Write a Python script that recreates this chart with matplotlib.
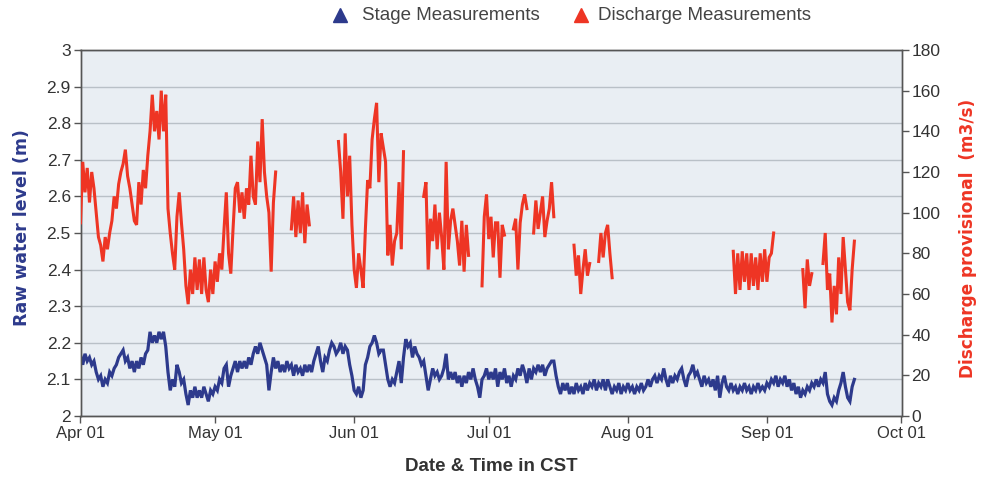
import datetime as dt
import numpy as np
import matplotlib
matplotlib.use("Agg")
import matplotlib.pyplot as plt
import matplotlib.dates as mdates
from matplotlib.lines import Line2D

plt.rcParams['font.family'] = ['Liberation Sans', 'DejaVu Sans']

# ---------------- data ----------------
start_date = dt.datetime(2010, 4, 1)
step_days = 0.5  # readings every 12 hours

# Stage (m), every 12 h from Apr 01
stage = [
 2.167, 2.14, 2.17, 2.15, 2.16, 2.14, 2.15, 2.12, 2.10, 2.11, 2.08, 2.10, 2.09, 2.12, 2.11, 2.13,
 2.14, 2.16, 2.17, 2.18, 2.15, 2.16, 2.13, 2.15, 2.12, 2.15, 2.13, 2.16, 2.14, 2.17, 2.18, 2.23,
 2.20, 2.22, 2.20, 2.23, 2.21, 2.23, 2.19, 2.12, 2.07, 2.10, 2.08, 2.14, 2.12, 2.09, 2.10, 2.06,
 2.03, 2.07, 2.05, 2.08, 2.05, 2.07, 2.05, 2.08, 2.06, 2.04, 2.07, 2.06, 2.08, 2.07, 2.10, 2.09,
 2.13, 2.14, 2.08, 2.11, 2.13, 2.15, 2.12, 2.15, 2.13, 2.15, 2.13, 2.16, 2.14, 2.17, 2.19, 2.17,
 2.20, 2.18, 2.16, 2.14, 2.07, 2.12, 2.16, 2.13, 2.15, 2.12, 2.14, 2.12, 2.15, 2.13, 2.14, 2.11,
 2.14, 2.12, 2.13, 2.11, 2.14, 2.12, 2.14, 2.12, 2.15, 2.17, 2.19, 2.15, 2.12, 2.16, 2.15, 2.18,
 2.20, 2.19, 2.17, 2.18, 2.20, 2.17, 2.19, 2.18, 2.14, 2.11, 2.07, 2.06, 2.08, 2.05, 2.07, 2.14,
 2.16, 2.19, 2.20, 2.22, 2.20, 2.17, 2.18, 2.18, 2.14, 2.10, 2.08, 2.10, 2.09, 2.12, 2.15, 2.09,
 2.16, 2.21, 2.19, 2.20, 2.16, 2.19, 2.17, 2.16, 2.14, 2.15, 2.11, 2.07, 2.10, 2.13, 2.11, 2.12,
 2.10, 2.11, 2.13, 2.17, 2.10, 2.12, 2.10, 2.12, 2.09, 2.11, 2.08, 2.11, 2.09, 2.12, 2.10, 2.13,
 2.10, 2.08, 2.05, 2.10, 2.11, 2.13, 2.10, 2.12,
 2.10, 2.13, 2.08, 2.12, 2.10, 2.13, 2.09, 2.11, 2.08, 2.11, 2.10, 2.13, 2.11, 2.14, 2.12, 2.09,
 2.13, 2.10, 2.13, 2.12, 2.14, 2.12, 2.14, 2.11, 2.13, 2.14, 2.15, 2.15, 2.11, 2.08, 2.06, 2.09,
 2.07, 2.09, 2.06, 2.08, 2.06, 2.09, 2.07, 2.08, 2.06, 2.09, 2.07, 2.09, 2.08, 2.10, 2.07, 2.09,
 2.08, 2.10, 2.07, 2.10, 2.08, 2.06, 2.08, 2.07, 2.09, 2.06, 2.08, 2.07, 2.09, 2.07, 2.08, 2.06,
 2.08, 2.07, 2.09, 2.07, 2.08, 2.10, 2.08, 2.10, 2.11, 2.09, 2.11, 2.10, 2.13, 2.10, 2.08, 2.11,
 2.09, 2.11, 2.10, 2.12, 2.13, 2.10, 2.08, 2.11, 2.12, 2.14, 2.11, 2.12, 2.10, 2.08, 2.11, 2.09,
 2.10, 2.08, 2.10, 2.07, 2.11, 2.05, 2.09, 2.11, 2.08, 2.07, 2.09, 2.07, 2.08, 2.06, 2.08, 2.07,
 2.09, 2.07, 2.08, 2.06, 2.08, 2.07, 2.09, 2.07, 2.08, 2.07, 2.09, 2.08, 2.10, 2.09, 2.11, 2.08,
 2.10, 2.09, 2.11, 2.08, 2.10, 2.07, 2.09, 2.06, 2.08, 2.05, 2.07, 2.06, 2.08, 2.07, 2.09, 2.08,
 2.10, 2.08, 2.10, 2.09, 2.12, 2.06, 2.04, 2.03, 2.05, 2.04, 2.07, 2.09, 2.12, 2.08, 2.05, 2.04,
 2.08, 2.10,
]

# Discharge (m3/s): separate runs, each every 12 h, start given in days after Apr 01
discharge_starts = [0.0, 47.0, 57.5, 76.5, 89.5, 96.5, 101.0, 110.0, 115.5, 145.5, 161.0, 165.5]
q_run1 = [95, 125, 110, 122, 105, 120, 112, 100, 88, 84, 76, 88, 82, 90, 96, 108, 102, 114, 120, 124,
          131, 118, 112, 104, 96, 94, 115, 104, 121, 112, 128, 140, 158, 140, 150, 136, 160, 140, 158, 102,
          90, 80, 72, 98, 110, 95, 82, 64, 55, 72, 60, 78, 62, 77, 60, 78, 62, 56, 72, 60,
          76, 66, 80, 72, 92, 110, 80, 70, 92, 112, 115, 100, 110, 97, 112, 104, 128, 108, 104, 135,
          115, 146, 120, 108, 100, 71, 105, 120]
q_run2 = [92, 108, 88, 106, 90, 110, 85, 104, 94]
q_run3 = [135, 120, 97, 139, 108, 128, 94, 72, 63, 80, 72, 63, 92, 116, 112, 136, 146, 154, 115, 139,
          132, 125, 79, 94, 74, 86, 90, 115, 82, 130]
q_run4 = [108, 115, 72, 97, 86, 104, 82, 100, 88, 72, 125, 82, 96, 102, 94, 86, 74, 96, 71, 94, 79]
q_run5 = [64, 98, 109, 87, 98, 78, 95, 95, 68, 94, 89]
q_run6 = [92, 97, 72, 95, 104, 109, 102]
q_run7 = [90, 106, 92, 100, 108, 88, 96, 102, 115, 98]
q_run8 = [84, 69, 79, 60, 72, 82, 69, 75]
q_run9 = [76, 90, 78, 90, 94, 80, 68]
q_run10 = [81, 60, 80, 62, 81, 66, 80, 62, 80, 64, 78, 62, 80, 66, 82, 66, 78, 80, 90]
q_run11 = [72, 53, 77, 64, 70]
q_run12 = [75, 90, 62, 70, 46, 64, 50, 78, 60, 88, 72, 56, 52, 72, 86]
discharge_runs = [q_run1, q_run2, q_run3, q_run4, q_run5, q_run6, q_run7, q_run8, q_run9,
                  q_run10, q_run11, q_run12]

stage_ticks = [2.0, 2.1, 2.2, 2.3, 2.4, 2.5, 2.6, 2.7, 2.8, 2.9, 3.0]
stage_labels = ["2", "2.1", "2.2", "2.3", "2.4", "2.5", "2.6", "2.7", "2.8", "2.9", "3"]
discharge_ticks = [0, 20, 40, 60, 80, 100, 120, 140, 160, 180]

# ---------------- figure ----------------
W, H = 989, 486
fig = plt.figure(figsize=(W / 100, H / 100), dpi=100)
fig.patch.set_facecolor("white")

left, right, top, bottom = 80.5, 901.5, 50, 416
ax = fig.add_axes([left / W, 1 - bottom / H, (right - left) / W, (bottom - top) / H])
ax.set_facecolor("#e9eef3")
ax2 = ax.twinx()

navy = "#2d3a8c"
red = "#ee3524"
txt = "#333333"

def to_num(days):
    return mdates.date2num(start_date) + np.asarray(days)

x_stage = to_num(np.arange(len(stage)) * step_days)
ax.plot(x_stage, stage, color=navy, lw=2.3, solid_joinstyle="miter", zorder=3)

for s, run in zip(discharge_starts, discharge_runs):
    xr = to_num(s + np.arange(len(run)) * step_days)
    ax2.plot(xr, run, color=red, lw=2.2, solid_joinstyle="miter", zorder=3)

ax.set_ylim(2.0, 3.0)
ax2.set_ylim(0, 180)
ax.set_yticks(stage_ticks)
ax.set_yticklabels(stage_labels)
ax2.set_yticks(discharge_ticks)

ax.set_xlim(mdates.date2num(dt.datetime(2010, 4, 1)), mdates.date2num(dt.datetime(2010, 10, 1)))
ax.xaxis.set_major_locator(mdates.MonthLocator())
ax.xaxis.set_major_formatter(mdates.DateFormatter("%b %d"))

ax.grid(axis="y", color="#b9c0c7", lw=1.0)
ax.set_axisbelow(True)

for a in (ax, ax2):
    for sp in a.spines.values():
        sp.set_color("#555555")
        sp.set_linewidth(1.0)
    a.tick_params(colors="#555555", labelcolor=txt, labelsize=12.5, length=5, width=1.0)

ax.tick_params(axis="x", pad=2, labelsize=12)
ax.tick_params(axis="y", pad=2)
ax2.tick_params(axis="y", pad=2)

fig.text((left + right) / 2 / W, 1 - 466 / H, "Date & Time in CST", ha="center", va="center",
         fontsize=13.5, fontweight="bold", color=txt)
fig.text(22 / W, 1 - 228 / H, "Raw water level (m)", rotation=90, ha="center", va="center",
         fontsize=12.5, fontweight="bold", color=navy, family="DejaVu Sans")
fig.text(968 / W, 1 - 238 / H, "Discharge provisional  (m3/s)", rotation=90, ha="center", va="center",
         fontsize=12.2, fontweight="bold", color=red, family="DejaVu Sans")

# legend
ly = 1 - 15 / H
fig.add_artist(Line2D([340 / W], [ly], marker="^", color=navy, markersize=10, transform=fig.transFigure, lw=0))
fig.text(362 / W, ly, "Stage Measurements", ha="left", va="center", fontsize=13.5, color="#444444")
fig.add_artist(Line2D([581 / W], [ly], marker="^", color=red, markersize=10, transform=fig.transFigure, lw=0))
fig.text(598 / W, ly, "Discharge Measurements", ha="left", va="center", fontsize=13.5, color="#444444")

fig.savefig("out.png", dpi=100)
